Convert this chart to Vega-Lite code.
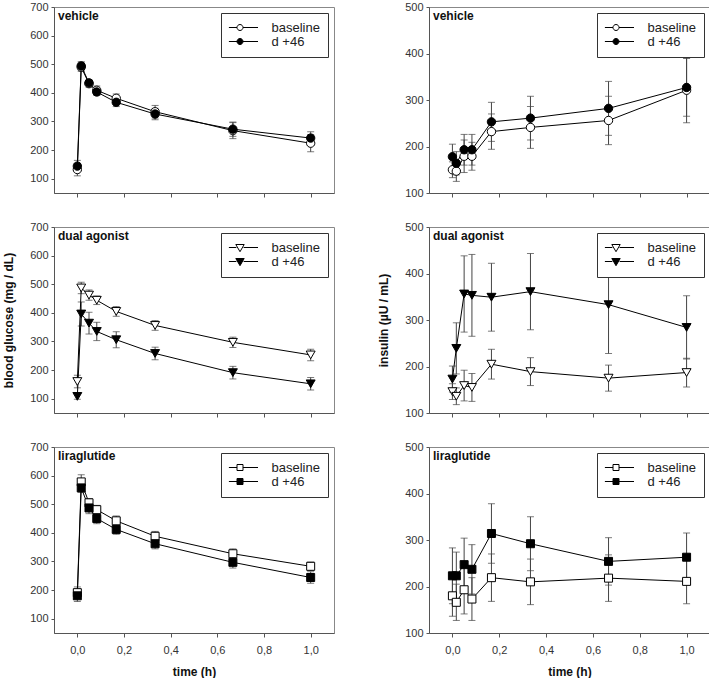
{
  "$schema": "https://vega.github.io/schema/vega-lite/v6.json",
  "padding": {"left": 2, "top": 0, "right": 0, "bottom": 0},
  "background": "white",
  "config": {
    "font": "Liberation Sans",
    "view": {"stroke": "#888", "strokeWidth": 1},
    "axis": {"labelFont": "Liberation Sans", "labelFontSize": 11, "labelColor": "#333", "titleFont": "Liberation Sans", "titleFontSize": 12, "titleFontWeight": "bold", "titleColor": "#111", "grid": false, "domainColor": "#555", "tickColor": "#555", "labelOverlap": false},
    "axisX": {"tickSize": 4, "labelPadding": 7, "titlePadding": 11},
    "axisY": {"tickSize": 3, "labelPadding": 3, "titlePadding": 14},
    "title": {"anchor": "start", "frame": "group", "fontSize": 12, "fontWeight": "bold", "color": "#111", "offset": -22, "dx": 4, "font": "Liberation Sans"},
    "legend": {"title": null, "orient": "top-right", "offset": 6, "symbolSize": 36, "symbolStrokeColor": "black", "symbolStrokeWidth": 1, "symbolOffset": 4.5, "labelOffset": 25, "columnPadding": 0, "labelFontSize": 13, "labelFont": "Liberation Sans", "labelColor": "#222", "strokeColor": "#333", "fillColor": "white", "padding": 8, "rowPadding": 0}
  },
  "datasets": {
    "d": [
      {"panel": "gv", "group": "baseline", "t": 0, "mean": 132, "sem": 22},
      {"panel": "gv", "group": "baseline", "t": 0.0167, "mean": 490, "sem": 15},
      {"panel": "gv", "group": "baseline", "t": 0.05, "mean": 432, "sem": 12},
      {"panel": "gv", "group": "baseline", "t": 0.0833, "mean": 409, "sem": 15},
      {"panel": "gv", "group": "baseline", "t": 0.1667, "mean": 381, "sem": 15},
      {"panel": "gv", "group": "baseline", "t": 0.3333, "mean": 334, "sem": 22},
      {"panel": "gv", "group": "baseline", "t": 0.6667, "mean": 268, "sem": 28},
      {"panel": "gv", "group": "baseline", "t": 1, "mean": 224, "sem": 30},
      {"panel": "gv", "group": "d +46", "t": 0, "mean": 144, "sem": 20},
      {"panel": "gv", "group": "d +46", "t": 0.0167, "mean": 494, "sem": 15},
      {"panel": "gv", "group": "d +46", "t": 0.05, "mean": 435, "sem": 10},
      {"panel": "gv", "group": "d +46", "t": 0.0833, "mean": 403, "sem": 12},
      {"panel": "gv", "group": "d +46", "t": 0.1667, "mean": 367, "sem": 15},
      {"panel": "gv", "group": "d +46", "t": 0.3333, "mean": 326, "sem": 20},
      {"panel": "gv", "group": "d +46", "t": 0.6667, "mean": 273, "sem": 25},
      {"panel": "gv", "group": "d +46", "t": 1, "mean": 242, "sem": 22},

      {"panel": "gd", "group": "baseline", "t": 0, "mean": 160, "sem": 22},
      {"panel": "gd", "group": "baseline", "t": 0.0167, "mean": 487, "sem": 20},
      {"panel": "gd", "group": "baseline", "t": 0.05, "mean": 462, "sem": 18},
      {"panel": "gd", "group": "baseline", "t": 0.0833, "mean": 444, "sem": 15},
      {"panel": "gd", "group": "baseline", "t": 0.1667, "mean": 405, "sem": 17},
      {"panel": "gd", "group": "baseline", "t": 0.3333, "mean": 356, "sem": 17},
      {"panel": "gd", "group": "baseline", "t": 0.6667, "mean": 297, "sem": 18},
      {"panel": "gd", "group": "baseline", "t": 1, "mean": 253, "sem": 20},
      {"panel": "gd", "group": "d +46", "t": 0, "mean": 108, "sem": 10},
      {"panel": "gd", "group": "d +46", "t": 0.0167, "mean": 396, "sem": 42},
      {"panel": "gd", "group": "d +46", "t": 0.05, "mean": 364, "sem": 38},
      {"panel": "gd", "group": "d +46", "t": 0.0833, "mean": 335, "sem": 32},
      {"panel": "gd", "group": "d +46", "t": 0.1667, "mean": 306, "sem": 28},
      {"panel": "gd", "group": "d +46", "t": 0.3333, "mean": 258, "sem": 22},
      {"panel": "gd", "group": "d +46", "t": 0.6667, "mean": 191, "sem": 22},
      {"panel": "gd", "group": "d +46", "t": 1, "mean": 152, "sem": 22},

      {"panel": "gl", "group": "baseline", "t": 0, "mean": 191, "sem": 20},
      {"panel": "gl", "group": "baseline", "t": 0.0167, "mean": 578, "sem": 25},
      {"panel": "gl", "group": "baseline", "t": 0.05, "mean": 505, "sem": 15},
      {"panel": "gl", "group": "baseline", "t": 0.0833, "mean": 481, "sem": 15},
      {"panel": "gl", "group": "baseline", "t": 0.1667, "mean": 442, "sem": 17},
      {"panel": "gl", "group": "baseline", "t": 0.3333, "mean": 388, "sem": 17},
      {"panel": "gl", "group": "baseline", "t": 0.6667, "mean": 327, "sem": 17},
      {"panel": "gl", "group": "baseline", "t": 1, "mean": 283, "sem": 15},
      {"panel": "gl", "group": "d +46", "t": 0, "mean": 180, "sem": 20},
      {"panel": "gl", "group": "d +46", "t": 0.0167, "mean": 557, "sem": 15},
      {"panel": "gl", "group": "d +46", "t": 0.05, "mean": 487, "sem": 20},
      {"panel": "gl", "group": "d +46", "t": 0.0833, "mean": 450, "sem": 18},
      {"panel": "gl", "group": "d +46", "t": 0.1667, "mean": 412, "sem": 17},
      {"panel": "gl", "group": "d +46", "t": 0.3333, "mean": 362, "sem": 18},
      {"panel": "gl", "group": "d +46", "t": 0.6667, "mean": 297, "sem": 20},
      {"panel": "gl", "group": "d +46", "t": 1, "mean": 244, "sem": 20},

      {"panel": "iv", "group": "baseline", "t": 0, "mean": 150, "sem": 17},
      {"panel": "iv", "group": "baseline", "t": 0.0167, "mean": 147, "sem": 22},
      {"panel": "iv", "group": "baseline", "t": 0.05, "mean": 179, "sem": 35},
      {"panel": "iv", "group": "baseline", "t": 0.0833, "mean": 179, "sem": 30},
      {"panel": "iv", "group": "baseline", "t": 0.1667, "mean": 232, "sem": 38},
      {"panel": "iv", "group": "baseline", "t": 0.3333, "mean": 241, "sem": 45},
      {"panel": "iv", "group": "baseline", "t": 0.6667, "mean": 256, "sem": 52},
      {"panel": "iv", "group": "baseline", "t": 1, "mean": 321, "sem": 70},
      {"panel": "iv", "group": "d +46", "t": 0, "mean": 178, "sem": 27},
      {"panel": "iv", "group": "d +46", "t": 0.0167, "mean": 164, "sem": 25},
      {"panel": "iv", "group": "d +46", "t": 0.05, "mean": 193, "sem": 33},
      {"panel": "iv", "group": "d +46", "t": 0.0833, "mean": 193, "sem": 33},
      {"panel": "iv", "group": "d +46", "t": 0.1667, "mean": 253, "sem": 42},
      {"panel": "iv", "group": "d +46", "t": 0.3333, "mean": 261, "sem": 47},
      {"panel": "iv", "group": "d +46", "t": 0.6667, "mean": 282, "sem": 58},
      {"panel": "iv", "group": "d +46", "t": 1, "mean": 327, "sem": 62},

      {"panel": "id", "group": "baseline", "t": 0, "mean": 146, "sem": 17},
      {"panel": "id", "group": "baseline", "t": 0.0167, "mean": 136, "sem": 18},
      {"panel": "id", "group": "baseline", "t": 0.05, "mean": 159, "sem": 33},
      {"panel": "id", "group": "baseline", "t": 0.0833, "mean": 155, "sem": 30},
      {"panel": "id", "group": "baseline", "t": 0.1667, "mean": 205, "sem": 32},
      {"panel": "id", "group": "baseline", "t": 0.3333, "mean": 189, "sem": 30},
      {"panel": "id", "group": "baseline", "t": 0.6667, "mean": 175, "sem": 28},
      {"panel": "id", "group": "baseline", "t": 1, "mean": 187, "sem": 31},
      {"panel": "id", "group": "d +46", "t": 0, "mean": 173, "sem": 28},
      {"panel": "id", "group": "d +46", "t": 0.0167, "mean": 239, "sem": 55},
      {"panel": "id", "group": "d +46", "t": 0.05, "mean": 356, "sem": 82},
      {"panel": "id", "group": "d +46", "t": 0.0833, "mean": 353, "sem": 88},
      {"panel": "id", "group": "d +46", "t": 0.1667, "mean": 349, "sem": 73},
      {"panel": "id", "group": "d +46", "t": 0.3333, "mean": 361, "sem": 82},
      {"panel": "id", "group": "d +46", "t": 0.6667, "mean": 333, "sem": 105},
      {"panel": "id", "group": "d +46", "t": 1, "mean": 284, "sem": 68},

      {"panel": "il", "group": "baseline", "t": 0, "mean": 180, "sem": 44},
      {"panel": "il", "group": "baseline", "t": 0.0167, "mean": 166, "sem": 39},
      {"panel": "il", "group": "baseline", "t": 0.05, "mean": 193, "sem": 52},
      {"panel": "il", "group": "baseline", "t": 0.0833, "mean": 173, "sem": 46},
      {"panel": "il", "group": "baseline", "t": 0.1667, "mean": 219, "sem": 51},
      {"panel": "il", "group": "baseline", "t": 0.3333, "mean": 210, "sem": 49},
      {"panel": "il", "group": "baseline", "t": 0.6667, "mean": 218, "sem": 50},
      {"panel": "il", "group": "baseline", "t": 1, "mean": 211, "sem": 48},
      {"panel": "il", "group": "d +46", "t": 0, "mean": 223, "sem": 60},
      {"panel": "il", "group": "d +46", "t": 0.0167, "mean": 223, "sem": 51},
      {"panel": "il", "group": "d +46", "t": 0.05, "mean": 247, "sem": 57},
      {"panel": "il", "group": "d +46", "t": 0.0833, "mean": 237, "sem": 53},
      {"panel": "il", "group": "d +46", "t": 0.1667, "mean": 314, "sem": 64},
      {"panel": "il", "group": "d +46", "t": 0.3333, "mean": 292, "sem": 58},
      {"panel": "il", "group": "d +46", "t": 0.6667, "mean": 254, "sem": 51},
      {"panel": "il", "group": "d +46", "t": 1, "mean": 263, "sem": 52}
    ]
  },
  "columns": 2,
  "bounds": "flush",
  "spacing": {"row": 34, "column": 95},
  "resolve": {"scale": {"fill": "independent"}, "legend": {"fill": "independent"}},
  "concat": [
    {
      "width": 280, "height": 186,
      "title": "vehicle",
      "data": {"name": "d"},
      "transform": [{"filter": "datum.panel == 'gv'"}],
      "encoding": {
        "x": {"field": "t", "type": "quantitative", "scale": {"domain": [-0.1, 1.1], "nice": false}, "axis": {"values": [0, 0.2, 0.4, 0.6, 0.8, 1.0], "labels": false, "title": null}},
        "y": {"field": "mean", "type": "quantitative", "scale": {"domain": [50, 700], "nice": false, "zero": false}, "axis": {"values": [100, 200, 300, 400, 500, 600, 700], "labelOverlap": false, "title": null}}
      },
      "layer": [
        {"mark": {"type": "errorbar", "ticks": {"size": 7}, "color": "#444"}, "encoding": {"yError": {"field": "sem"}}},
        {"mark": {"type": "line", "color": "black", "strokeWidth": 1}, "encoding": {"detail": {"field": "group"}}},
        {"mark": {"type": "point", "shape": "circle", "filled": true, "stroke": "black", "strokeWidth": 1, "size": 70, "opacity": 1}, "encoding": {"fill": {"field": "group", "type": "nominal", "scale": {"domain": ["baseline", "d +46"], "range": ["white", "black"]}, "legend": {"symbolType": "M-3.7,0H-1M1,0H6M-1,0A1,1 0 1,1 1,0A1,1 0 1,1 -1,0Z"}}}}
      ]
    },
    {
      "width": 281, "height": 186,
      "title": "vehicle",
      "data": {"name": "d"},
      "transform": [{"filter": "datum.panel == 'iv'"}],
      "encoding": {
        "x": {"field": "t", "type": "quantitative", "scale": {"domain": [-0.1, 1.1], "nice": false}, "axis": {"values": [0, 0.2, 0.4, 0.6, 0.8, 1.0], "labels": false, "title": null}},
        "y": {"field": "mean", "type": "quantitative", "scale": {"domain": [100, 500], "nice": false, "zero": false}, "axis": {"values": [100, 200, 300, 400, 500], "labelOverlap": false, "title": null}}
      },
      "layer": [
        {"mark": {"type": "errorbar", "ticks": {"size": 7}, "color": "#444"}, "encoding": {"yError": {"field": "sem"}}},
        {"mark": {"type": "line", "color": "black", "strokeWidth": 1}, "encoding": {"detail": {"field": "group"}}},
        {"mark": {"type": "point", "shape": "circle", "filled": true, "stroke": "black", "strokeWidth": 1, "size": 70, "opacity": 1}, "encoding": {"fill": {"field": "group", "type": "nominal", "scale": {"domain": ["baseline", "d +46"], "range": ["white", "black"]}, "legend": {"symbolType": "M-3.7,0H-1M1,0H6M-1,0A1,1 0 1,1 1,0A1,1 0 1,1 -1,0Z"}}}}
      ]
    },
    {
      "width": 280, "height": 186,
      "title": "dual agonist",
      "data": {"name": "d"},
      "transform": [{"filter": "datum.panel == 'gd'"}],
      "encoding": {
        "x": {"field": "t", "type": "quantitative", "scale": {"domain": [-0.1, 1.1], "nice": false}, "axis": {"values": [0, 0.2, 0.4, 0.6, 0.8, 1.0], "labels": false, "title": null}},
        "y": {"field": "mean", "type": "quantitative", "scale": {"domain": [50, 700], "nice": false, "zero": false}, "axis": {"values": [100, 200, 300, 400, 500, 600, 700], "labelOverlap": false, "title": "blood glucose (mg / dL)"}}
      },
      "layer": [
        {"mark": {"type": "errorbar", "ticks": {"size": 7}, "color": "#444"}, "encoding": {"yError": {"field": "sem"}}},
        {"mark": {"type": "line", "color": "black", "strokeWidth": 1}, "encoding": {"detail": {"field": "group"}}},
        {"mark": {"type": "point", "shape": "triangle-down", "filled": true, "stroke": "black", "strokeWidth": 1, "size": 80, "opacity": 1}, "encoding": {"fill": {"field": "group", "type": "nominal", "scale": {"domain": ["baseline", "d +46"], "range": ["white", "black"]}, "legend": {"symbolType": "M-3.7,0H-1.2M1.2,0H6M-1.4,-1L1.4,-1L0,1.4Z"}}}}
      ]
    },
    {
      "width": 281, "height": 186,
      "title": "dual agonist",
      "data": {"name": "d"},
      "transform": [{"filter": "datum.panel == 'id'"}],
      "encoding": {
        "x": {"field": "t", "type": "quantitative", "scale": {"domain": [-0.1, 1.1], "nice": false}, "axis": {"values": [0, 0.2, 0.4, 0.6, 0.8, 1.0], "labels": false, "title": null}},
        "y": {"field": "mean", "type": "quantitative", "scale": {"domain": [100, 500], "nice": false, "zero": false}, "axis": {"values": [100, 200, 300, 400, 500], "labelOverlap": false, "title": "insulin (µU / mL)"}}
      },
      "layer": [
        {"mark": {"type": "errorbar", "ticks": {"size": 7}, "color": "#444"}, "encoding": {"yError": {"field": "sem"}}},
        {"mark": {"type": "line", "color": "black", "strokeWidth": 1}, "encoding": {"detail": {"field": "group"}}},
        {"mark": {"type": "point", "shape": "triangle-down", "filled": true, "stroke": "black", "strokeWidth": 1, "size": 80, "opacity": 1}, "encoding": {"fill": {"field": "group", "type": "nominal", "scale": {"domain": ["baseline", "d +46"], "range": ["white", "black"]}, "legend": {"symbolType": "M-3.7,0H-1.2M1.2,0H6M-1.4,-1L1.4,-1L0,1.4Z"}}}}
      ]
    },
    {
      "width": 280, "height": 186,
      "title": "liraglutide",
      "data": {"name": "d"},
      "transform": [{"filter": "datum.panel == 'gl'"}],
      "encoding": {
        "x": {"field": "t", "type": "quantitative", "scale": {"domain": [-0.1, 1.1], "nice": false}, "axis": {"values": [0, 0.2, 0.4, 0.6, 0.8, 1.0], "format": ".1f", "labelExpr": "replace(datum.label, '.', ',')", "title": "time (h)"}},
        "y": {"field": "mean", "type": "quantitative", "scale": {"domain": [50, 700], "nice": false, "zero": false}, "axis": {"values": [100, 200, 300, 400, 500, 600, 700], "labelOverlap": false, "title": null}}
      },
      "layer": [
        {"mark": {"type": "errorbar", "ticks": {"size": 7}, "color": "#444"}, "encoding": {"yError": {"field": "sem"}}},
        {"mark": {"type": "line", "color": "black", "strokeWidth": 1}, "encoding": {"detail": {"field": "group"}}},
        {"mark": {"type": "point", "shape": "square", "filled": true, "stroke": "black", "strokeWidth": 1, "size": 64, "opacity": 1}, "encoding": {"fill": {"field": "group", "type": "nominal", "scale": {"domain": ["baseline", "d +46"], "range": ["white", "black"]}, "legend": {"symbolType": "M-3.7,0H-1M1,0H6M-1,-1H1V1H-1Z"}}}}
      ]
    },
    {
      "width": 281, "height": 186,
      "title": "liraglutide",
      "data": {"name": "d"},
      "transform": [{"filter": "datum.panel == 'il'"}],
      "encoding": {
        "x": {"field": "t", "type": "quantitative", "scale": {"domain": [-0.1, 1.1], "nice": false}, "axis": {"values": [0, 0.2, 0.4, 0.6, 0.8, 1.0], "format": ".1f", "labelExpr": "replace(datum.label, '.', ',')", "title": "time (h)"}},
        "y": {"field": "mean", "type": "quantitative", "scale": {"domain": [100, 500], "nice": false, "zero": false}, "axis": {"values": [100, 200, 300, 400, 500], "labelOverlap": false, "title": null}}
      },
      "layer": [
        {"mark": {"type": "errorbar", "ticks": {"size": 7}, "color": "#444"}, "encoding": {"yError": {"field": "sem"}}},
        {"mark": {"type": "line", "color": "black", "strokeWidth": 1}, "encoding": {"detail": {"field": "group"}}},
        {"mark": {"type": "point", "shape": "square", "filled": true, "stroke": "black", "strokeWidth": 1, "size": 64, "opacity": 1}, "encoding": {"fill": {"field": "group", "type": "nominal", "scale": {"domain": ["baseline", "d +46"], "range": ["white", "black"]}, "legend": {"symbolType": "M-3.7,0H-1M1,0H6M-1,-1H1V1H-1Z"}}}}
      ]
    }
  ]
}
